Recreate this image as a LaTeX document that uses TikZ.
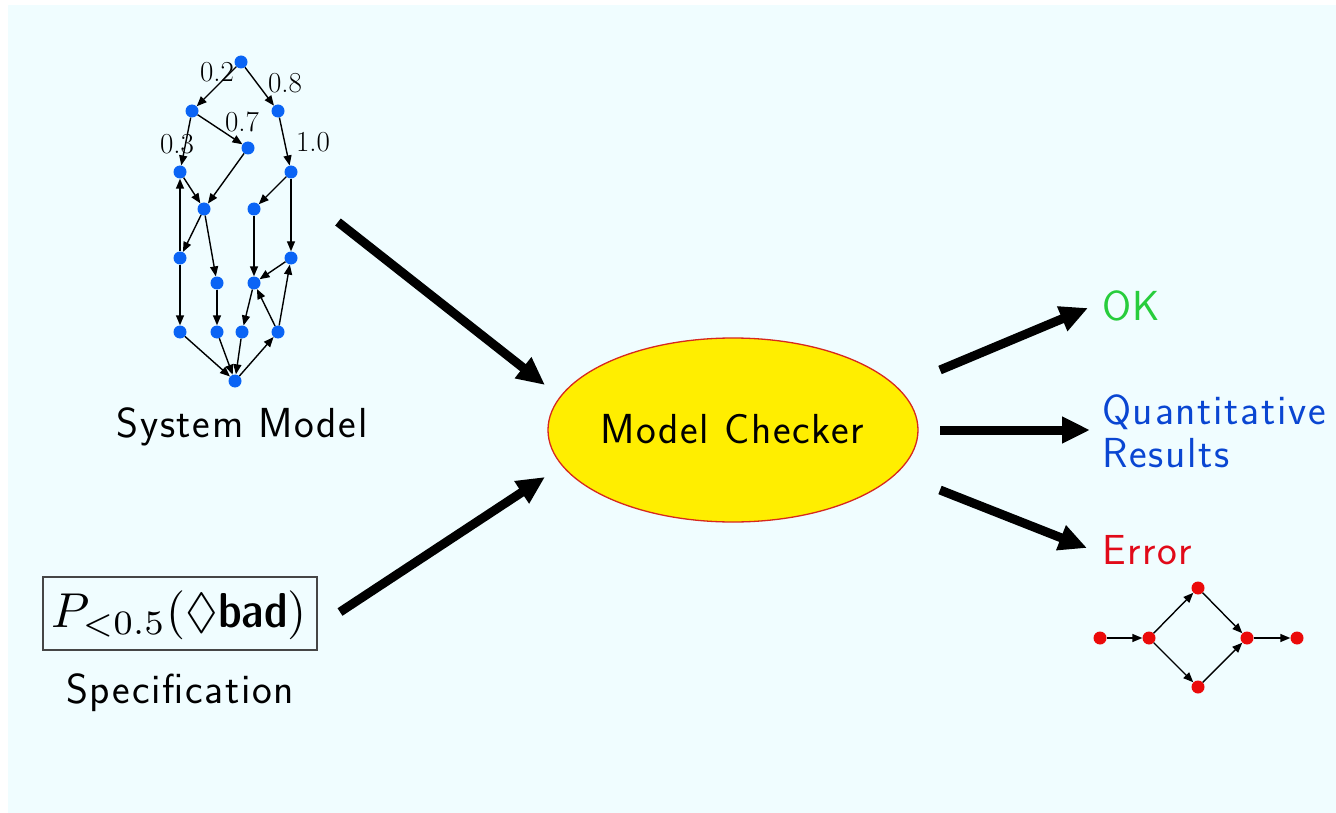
\documentclass[tikz,border=0pt]{standalone}
\usepackage{amssymb}
\usepackage{fontspec}
\usetikzlibrary{arrows.meta,shapes.geometric}

\newfontfamily\lblfont[LetterSpace=4]{Latin Modern Sans}
\newfontfamily\demicond{Latin Modern Sans Demi Cond}

\definecolor{bgcyan}{RGB}{240,253,255}
\definecolor{stateblue}{RGB}{10,100,245}
\definecolor{statered}{RGB}{235,10,10}
\definecolor{mcyellow}{RGB}{255,238,0}
\definecolor{mcborder}{RGB}{215,40,30}
\definecolor{okgreen}{RGB}{40,205,60}
\definecolor{resblue}{RGB}{10,70,210}
\definecolor{errred}{RGB}{225,10,25}

\tikzset{
  bstate/.style={circle, fill=stateblue, inner sep=0pt, minimum size=13pt},
  rstate/.style={circle, fill=statered, inner sep=0pt, minimum size=13pt},
  tr/.style={line width=1.4pt, -{Triangle[length=10pt,width=8pt]}},
  prob/.style={font=\fontsize{29}{29}\selectfont, inner sep=0pt},
  bigarrow/.style={line width=9pt, -{Triangle[length=28pt,width=25pt]}},
  lbl/.style={font=\lblfont\fontsize{42}{46}\selectfont, inner sep=0pt, anchor=base},
  outlbl/.style={font=\lblfont\fontsize{42}{46}\selectfont, inner sep=0pt, anchor=base west, align=left},
}

\begin{document}
\begin{tikzpicture}[x=1pt, y=-1pt]
  \useasboundingbox (0,0) rectangle (1336,813);
  \fill[white] (0,0) rectangle (1336,813);
  \fill[bgcyan] (8,5) rectangle (1336,813);

  % ---- system model: a small Markov chain ----
  \node[bstate] (t) at (241,62) {};
  \node[bstate] (a) at (192,111) {};
  \node[bstate] (b) at (278,111) {};
  \node[bstate] (d) at (248,148) {};
  \node[bstate] (e) at (180,172) {};
  \node[bstate] (f) at (291,172) {};
  \node[bstate] (g) at (204,209) {};
  \node[bstate] (h) at (254,209) {};
  \node[bstate] (i) at (180,258) {};
  \node[bstate] (j) at (291,258) {};
  \node[bstate] (k) at (217,283) {};
  \node[bstate] (l) at (254,283) {};
  \node[bstate] (m) at (180,332) {};
  \node[bstate] (n) at (217,332) {};
  \node[bstate] (o) at (242,332) {};
  \node[bstate] (p) at (278,332) {};
  \node[bstate] (q) at (235,381) {};

  \draw[tr] (t) -- (a);
  \draw[tr] (t) -- (b);
  \draw[tr] (a) -- (d);
  \draw[tr] (a) -- (e);
  \draw[tr] (b) -- (f);
  \draw[tr] (e) -- (g);
  \draw[tr] (d) -- (g);
  \draw[tr] (f) -- (h);
  \draw[tr] (i) -- (e);
  \draw[tr] (f) -- (j);
  \draw[tr] (g) -- (i);
  \draw[tr] (g) -- (k);
  \draw[tr] (h) -- (l);
  \draw[tr] (j) -- (l);
  \draw[tr] (i) -- (m);
  \draw[tr] (k) -- (n);
  \draw[tr] (l) -- (o);
  \draw[tr] (p) -- (l);
  \draw[tr] (p) -- (j);
  \draw[tr] (q) -- (p);
  \draw[tr] (m) -- (q);
  \draw[tr] (n) -- (q);
  \draw[tr] (o) -- (q);

  \node[prob] (p02) at (217,72) {0.2};
  \node[prob] (p08) at (285,83) {0.8};
  \node[prob] (p07) at (242,122) {0.7};
  \node[prob] (p03) at (177,144) {0.3};
  \node[prob] (p10) at (313,142) {1.0};

  \node[lbl] (sysm) at (242,437) {System Model};

  % ---- specification ----
  \node[draw={rgb,255:red,70;green,70;blue,70}, line width=1.2pt, minimum width=274pt,
        minimum height=73pt, inner sep=0pt] (specbox) at (180,613.5) {};
  \node[scale=4.9, inner sep=0pt, anchor=base] (formula) at (179,627)
       {$P_{<0.5}(\Diamond\mbox{\demicond bad})$};
  \node[lbl] (spec) at (180,703) {Specification};

  % ---- model checker ----
  \node[ellipse, fill=mcyellow, draw=mcborder, line width=1.3pt,
        minimum width=370pt, minimum height=184pt, inner sep=0pt] (mc) at (733,430) {};
  \node[lbl] (mctext) at (732,443) {Model Checker};

  % ---- results ----
  \node[outlbl, text=okgreen] (ok) at (1102,320) {OK};
  \node[outlbl, text=resblue] (quant) at (1102,424) {Quantitative};
  \node[outlbl, text=resblue] (res) at (1102,467) {Results};
  \node[outlbl, text=errred] (err) at (1102,564) {Error};

  % ---- counterexample path ----
  \node[rstate] (r1) at (1100,638) {};
  \node[rstate] (r2) at (1149,638) {};
  \node[rstate] (r3) at (1198,588) {};
  \node[rstate] (r4) at (1247,638) {};
  \node[rstate] (r5) at (1297,638) {};
  \node[rstate] (r6) at (1198,687) {};
  \draw[tr] (r1) -- (r2);
  \draw[tr] (r2) -- (r3);
  \draw[tr] (r2) -- (r6);
  \draw[tr] (r3) -- (r4);
  \draw[tr] (r6) -- (r4);
  \draw[tr] (r4) -- (r5);

  % ---- main flow arrows ----
  \coordinate (sysout) at (338,222);
  \coordinate (mcin1) at (545,385);
  \coordinate (specout) at (340,612);
  \coordinate (mcin2) at (545,477);
  \coordinate (mcout1) at (940,370);
  \coordinate (okin) at (1088,308);
  \coordinate (mcout2) at (940,430);
  \coordinate (quantin) at (1090,430);
  \coordinate (mcout3) at (940,490);
  \coordinate (errin) at (1087,548);

  \draw[bigarrow] (sysout) -- (mcin1);
  \draw[bigarrow] (specout) -- (mcin2);
  \draw[bigarrow] (mcout1) -- (okin);
  \draw[bigarrow] (mcout2) -- (quantin);
  \draw[bigarrow] (mcout3) -- (errin);
\end{tikzpicture}
\end{document}
